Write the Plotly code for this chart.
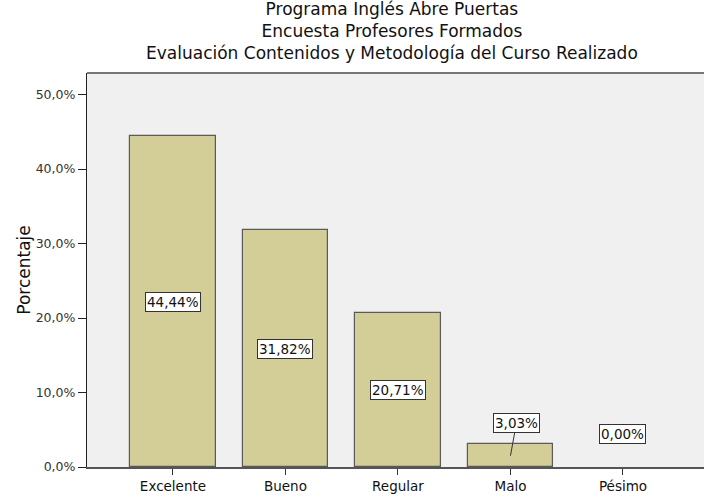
import plotly.graph_objects as go

categories = ["Excelente", "Bueno", "Regular", "Malo", "Pésimo"]
values = [44.44, 31.82, 20.71, 3.03, 0.00]
value_labels = ["44,44%", "31,82%", "20,71%", "3,03%", "0,00%"]
y_tickvals = [0, 10, 20, 30, 40, 50]
y_ticktext = ["0,0%", "10,0%", "20,0%", "30,0%", "40,0%", "50,0%"]
title_lines = ["Programa Inglés Abre Puertas", "Encuesta Profesores Formados",
               "Evaluación Contenidos y Metodología del Curso Realizado"]

FONT = "DejaVu Sans"
H = 499
x_idx = list(range(len(categories)))

fig = go.Figure()
fig.add_trace(go.Bar(
    x=x_idx, y=values, width=0.76,
    marker=dict(color="#d3ce98",
                line=dict(color="#5a5a5a", width=[1.2 if v > 0 else 0 for v in values])),
    hoverinfo="skip",
))

annotations = []
for i, (v, t) in enumerate(zip(values, value_labels)):
    box = dict(text=t, xref="x", yref="y", font=dict(family=FONT, size=13.5, color="#111"),
               bgcolor="white", bordercolor="#333", borderwidth=1, borderpad=1)
    if v >= 10:
        annotations.append(dict(box, x=i, y=v / 2, showarrow=False))
    elif v > 0:
        annotations.append(dict(box, x=i, y=v / 2, showarrow=True, arrowhead=0,
                                arrowwidth=1, arrowcolor="#333", ax=6, ay=-33))
    else:
        annotations.append(dict(box, x=i, y=4.4, showarrow=False))

# title as a single multi-line annotation
annotations.append(dict(text="<br>".join(title_lines), xref="paper", yref="paper", x=0.495,
                        y=1 + (73 - 31) / (H - 73 - 32), xanchor="center", yanchor="middle",
                        showarrow=False, align="center",
                        font=dict(family=FONT, size=17, color="#111")))

fig.update_layout(
    width=704, height=H,
    margin=dict(l=87, r=0, t=73, b=32),
    paper_bgcolor="white", plot_bgcolor="#f0f0f0",
    showlegend=False,
    bargap=0,
    xaxis=dict(range=[-0.764, 4.72], tickvals=x_idx, ticktext=categories,
               showgrid=False, zeroline=False, showline=True, linecolor="#555", linewidth=1.5,
               ticks="outside", ticklen=6, tickcolor="#333", tickwidth=1.2,
               tickfont=dict(family=FONT, size=13.5, color="#111")),
    yaxis=dict(range=[0, 52.9], tickvals=y_tickvals, ticktext=y_ticktext,
               showgrid=False, zeroline=False, showline=True, linecolor="#222", linewidth=1.2,
               ticks="outside", ticklen=8, tickcolor="#222",
               tickfont=dict(family=FONT, size=12.5, color="#333"),
               title=dict(text="Porcentaje", font=dict(family=FONT, size=17, color="#111"), standoff=0)),
    annotations=annotations,
    shapes=[dict(type="line", xref="paper", yref="paper", x0=0, x1=1, y0=1, y1=1,
                 line=dict(color="#777", width=2))],
)

fig.write_html("out.html", config={"displayModeBar": False},
               post_script="document.body.style.margin='0';document.body.style.padding='0';")
